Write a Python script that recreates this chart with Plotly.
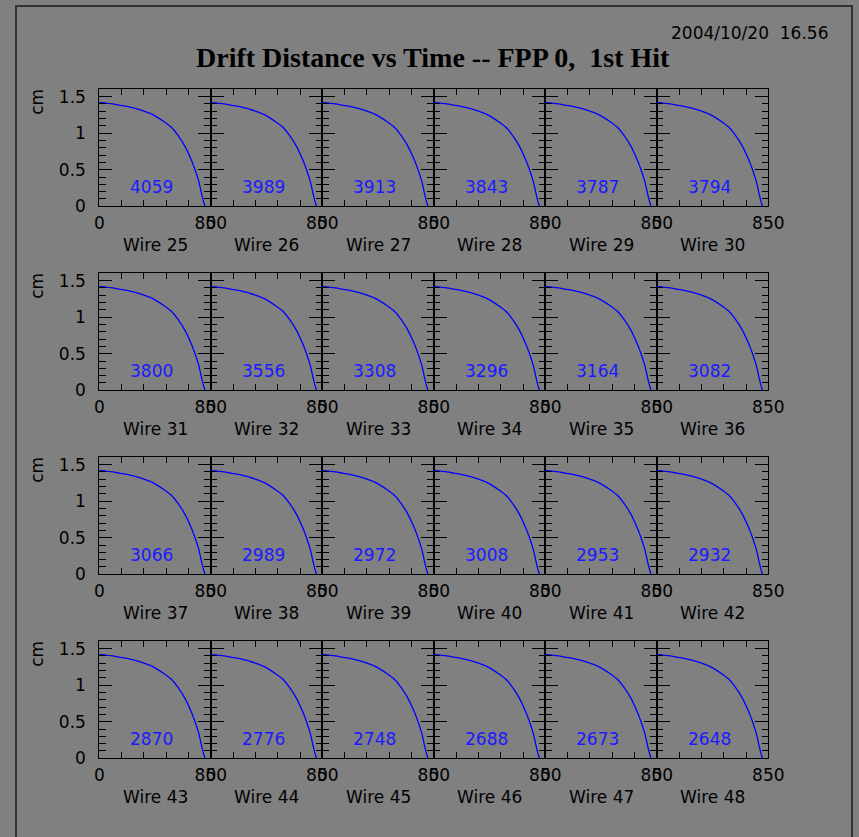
import plotly.graph_objects as go

# ---- data ----
wires = list(range(25, 49))
entries = [4059, 3989, 3913, 3843, 3787, 3794,
           3800, 3556, 3308, 3296, 3164, 3082,
           3066, 2989, 2972, 3008, 2953, 2932,
           2870, 2776, 2748, 2688, 2673, 2648]
time_ns = [0, 50, 100, 150, 200, 250, 300, 350, 400, 450, 500, 550,
           600, 650, 700, 730, 760, 780, 795, 805]
dist_cm = [1.42, 1.41, 1.40, 1.385, 1.37, 1.35, 1.325, 1.295, 1.26, 1.21,
           1.15, 1.08, 0.97, 0.83, 0.64, 0.50, 0.33, 0.17, 0.06, 0.0]
x_tickvals = [0, 170, 340, 510, 680, 850]
x_ticktext = ["0", "", "", "", "", "850"]
title_text = "Drift Distance vs Time -- FPP 0,  1st Hit"
date_text = "2004/10/20  16.56"

W, H = 859, 837
BG = "#808080"
FONT = "DejaVu Sans"


def px(xp):
    return xp / W


def py(yp):
    return 1 - yp / H


left, right = 99.3, 768.3
pw = (right - left) / 6
tops = [89.3, 273.3, 457.3, 641.3]
ph = 117.0

fig = go.Figure()
layout = dict(
    width=W, height=H, margin=dict(l=0, r=0, t=0, b=0, autoexpand=False),
    paper_bgcolor=BG, plot_bgcolor=BG, showlegend=False,
    font=dict(family=FONT, size=17, color="black"),
)
annotations = []

for i, (w, n) in enumerate(zip(wires, entries)):
    r, c = divmod(i, 6)
    k = i + 1
    xs = "" if k == 1 else str(k)
    fig.add_trace(go.Scatter(x=time_ns, y=dist_cm, mode="lines",
                             line=dict(color="#0000ff", width=1.3, shape="spline", smoothing=0.6),
                             xaxis="x" + xs, yaxis="y" + xs, hoverinfo="skip"))
    layout["xaxis" + xs] = dict(
        domain=[px(left + c * pw), px(left + (c + 1) * pw)], anchor="y" + xs, range=[0, 850],
        automargin=False,
        showgrid=False, zeroline=False, showline=True, linecolor="black",
        linewidth=1, mirror="ticks", ticks="inside", ticklen=6,
        tickcolor="black", tickwidth=1,
        tickmode="array", tickvals=x_tickvals, ticktext=x_ticktext,
        tickfont=dict(family=FONT, size=17), ticklabelstandoff=1,
    )
    layout["yaxis" + xs] = dict(
        domain=[py(tops[r] + ph), py(tops[r])], anchor="x" + xs, range=[0, 1.6],
        automargin=False,
        showgrid=False, zeroline=False, showline=True, linecolor="black",
        linewidth=1, mirror="ticks", ticks="inside", ticklen=13,
        tickcolor="black", tickwidth=1,
        tickmode="array", tickvals=[0, 0.5, 1, 1.5],
        ticktext=["0", "0.5", "1", "1.5"],
        showticklabels=(c == 0),
        tickfont=dict(family=FONT, size=17), ticklabelstandoff=9,
        minor=dict(ticks="inside", ticklen=6.5, dtick=0.1, tick0=0,
                   tickcolor="black", tickwidth=1, showgrid=False),
    )
    annotations.append(dict(
        text=str(n), xref="x" + xs, yref="y" + xs, x=400, y=0.27,
        showarrow=False, font=dict(family=FONT, size=17, color="#1a1aff"),
        xanchor="center", yanchor="middle"))
    annotations.append(dict(
        text=f"Wire {w}", xref=f"x{xs} domain", yref=f"y{xs} domain",
        x=0.5, y=-39 / ph, showarrow=False,
        font=dict(family=FONT, size=17, color="black"),
        xanchor="center", yanchor="middle"))
    if c == 0:
        annotations.append(dict(
            text="cm", xref="paper", yref=f"y{xs} domain",
            x=px(37.5), y=1 - 13 / ph, textangle=-90, showarrow=False,
            font=dict(family=FONT, size=17, color="black"),
            xanchor="center", yanchor="middle"))

annotations.append(dict(
    text=f"<b>{title_text}</b>", xref="paper", yref="paper",
    x=px(433), y=py(57.5), showarrow=False,
    font=dict(family="Liberation Serif", size=28, color="black"),
    xanchor="center", yanchor="middle"))
annotations.append(dict(
    text=date_text, xref="paper", yref="paper",
    x=px(830), y=py(33), showarrow=False,
    font=dict(family=FONT, size=17, color="black"),
    xanchor="right", yanchor="middle"))

layout["annotations"] = annotations
layout["shapes"] = [dict(type="rect", xref="paper", yref="paper",
                         x0=px(16), x1=px(852), y0=-0.1, y1=py(6),
                         line=dict(color="#333333", width=2),
                         fillcolor="rgba(0,0,0,0)", layer="below")]
fig.update_layout(**layout)
fig.write_html("out.html")
